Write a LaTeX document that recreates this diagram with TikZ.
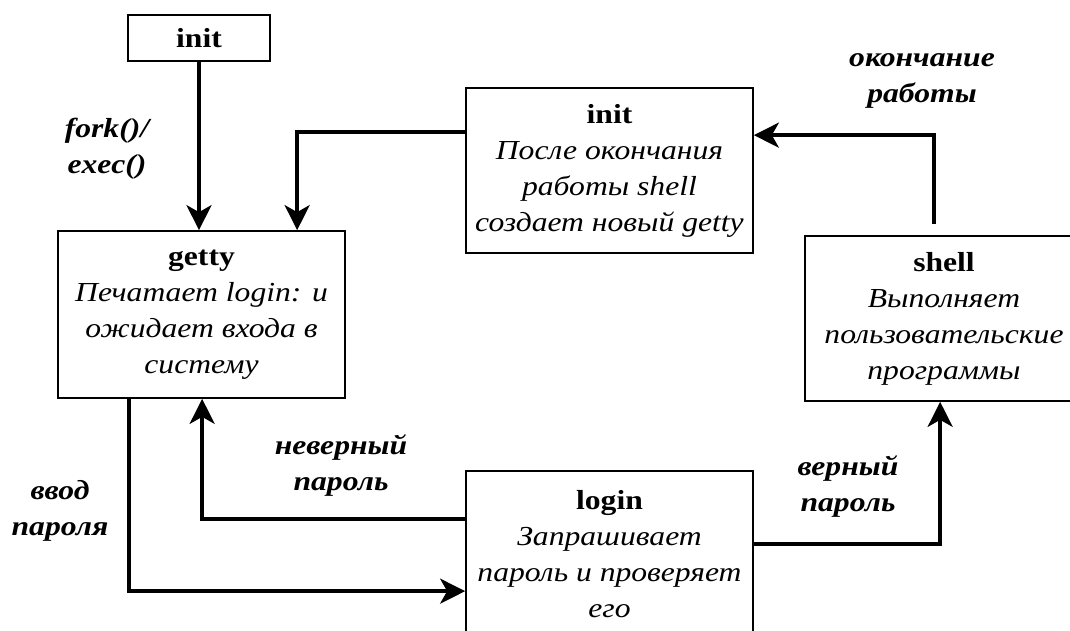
\documentclass[tikz,border=0pt]{standalone}
\usepackage{fontspec}
\setmainfont{Liberation Serif}[FakeStretch=1.15]
\usetikzlibrary{arrows.meta}

\begin{document}
\begin{tikzpicture} [x=1pt, y=-1pt,
        every node/.style={font=\fontsize{27.5}{36}\selectfont},
        box/.style={draw, line width=1.7pt, align=center, inner sep=0pt},
        lbl/.style={align=center, font=\fontsize{27.5}{36}\selectfont\bfseries\itshape},
        arr/.style={line width=3.5pt, -{Stealth[length=25pt, width=25pt, inset=7pt]}}]
            \clip (0,0) rectangle (1070,631);

            \node[box, minimum width=142, minimum height=46] (init) at (199, 38) {\textbf{init}};
            \node[box, minimum width=287, minimum height=167] (getty) at (201.5, 314.5)
                {\textbf{getty}\\ \textit{Печатает login: и}\\ \textit{ожидает входа в}\\ \textit{систему}};
            \node[box, minimum width=287, minimum height=165] (init2) at (609.5, 170.5)
                {\textbf{init}\\ \textit{После окончания}\\ \textit{работы shell}\\ \textit{создает новый getty}};
            \node[box, minimum width=278, minimum height=165] (shell) at (944, 318.5)
                {\textbf{shell}\\ \textit{Выполняет}\\ \textit{пользовательские}\\ \textit{программы}};
            \node[box, minimum width=287, minimum height=167] (login) at (609.5, 554.5)
                {\textbf{login}\\ \textit{Запрашивает}\\ \textit{пароль и проверяет}\\ \textit{его}};

            \node[lbl] (fork) at (107, 149)  {fork()/\\ exec()};
            \node[lbl] (konec) at (922, 81)  {окончание\\ работы};
            \node[lbl] (vvod) at (60, 511)   {ввод\\ пароля};
            \node[lbl] (nevern) at (341, 466) {неверный\\ пароль};
            \node[lbl] (vern) at (848, 487)  {верный\\ пароль};

            \draw[arr] (init.south) -- (init.south |- getty.north);
            \draw[arr] ([yshift=-45pt]init2.north west) -| ([xshift=240pt]getty.north west);
            \draw[arr] ([xshift=-10pt, yshift=11pt]shell.north) |- ([yshift=-48pt]init2.north east);
            \draw[arr] ([xshift=72pt]getty.south west) |- ([yshift=-121pt]login.north west);
            \draw[arr] ([yshift=-49pt]login.north west) -| ([xshift=145pt]getty.south west);
            \draw[arr] ([yshift=-74pt]login.north east) -| ([xshift=136pt]shell.south west);
        \end{tikzpicture}
\end{document}
